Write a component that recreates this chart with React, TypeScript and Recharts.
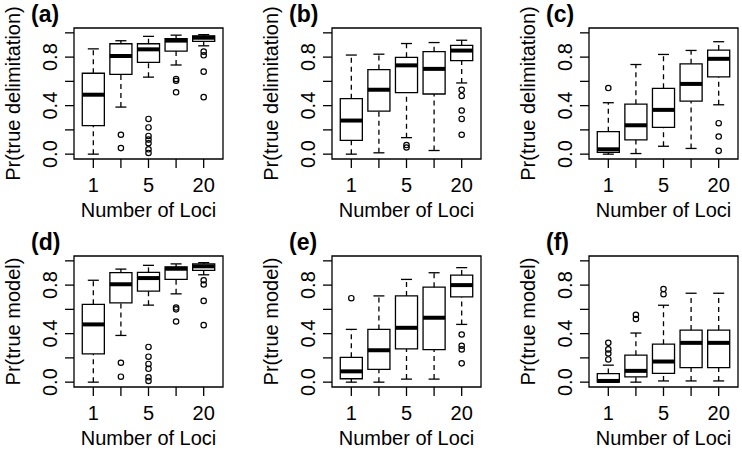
import React from 'react';
import { ComposedChart, XAxis, YAxis, Scatter, ReferenceArea, ReferenceLine } from 'recharts';

const loci = ['1', '2', '5', '10', '20'];
// R drops the labels that would overlap
const lociLabels = ['1', '', '5', '', '20'];
const yTicks = [0, 0.2, 0.4, 0.6, 0.8, 1.0];
const yTickLabels = ['0.0', '', '0.4', '', '0.8', ''];

// [lower whisker, Q1, median, Q3, upper whisker] for each number of loci
const statsA = [
  [0.0, 0.235, 0.49, 0.667, 0.868],
  [0.388, 0.658, 0.809, 0.91, 0.935],
  [0.635, 0.757, 0.864, 0.91, 0.971],
  [0.735, 0.85, 0.936, 0.953, 0.981],
  [0.893, 0.93, 0.96, 0.975, 0.985],
];
const outA = [[], [0.16, 0.05], [0.29, 0.22, 0.15, 0.12, 0.09, 0.04, 0.01], [0.62, 0.605, 0.51], [0.845, 0.815, 0.68, 0.47]];

const statsB = [
  [0.0, 0.113, 0.277, 0.457, 0.817],
  [0.011, 0.354, 0.531, 0.697, 0.824],
  [0.136, 0.507, 0.732, 0.798, 0.912],
  [0.03, 0.496, 0.703, 0.845, 0.92],
  [0.587, 0.771, 0.854, 0.897, 0.939],
];
const outB = [[], [], [0.075, 0.055], [], [0.53, 0.48, 0.36, 0.29, 0.16]];

const statsC = [
  [0.0, 0.014, 0.04, 0.185, 0.424],
  [0.005, 0.117, 0.238, 0.412, 0.739],
  [0.065, 0.221, 0.365, 0.543, 0.822],
  [0.047, 0.437, 0.579, 0.745, 0.855],
  [0.407, 0.637, 0.786, 0.858, 0.927],
];
const outC = [[0.545], [], [], [], [0.255, 0.145, 0.027]];

const statsD = [
  [0.0, 0.233, 0.476, 0.642, 0.84],
  [0.385, 0.653, 0.807, 0.903, 0.932],
  [0.635, 0.75, 0.858, 0.905, 0.963],
  [0.728, 0.848, 0.935, 0.95, 0.975],
  [0.885, 0.922, 0.955, 0.975, 0.985],
];
const outD = [[], [0.16, 0.045], [0.29, 0.21, 0.15, 0.11, 0.04, 0.01], [0.615, 0.6, 0.5], [0.84, 0.805, 0.67, 0.47]];

const statsE = [
  [0.0, 0.028, 0.089, 0.205, 0.435],
  [0.0, 0.105, 0.263, 0.435, 0.711],
  [0.025, 0.274, 0.448, 0.711, 0.847],
  [0.025, 0.268, 0.531, 0.783, 0.902],
  [0.476, 0.703, 0.8, 0.883, 0.944],
];
const outE = [[0.692], [], [], [], [0.393, 0.3, 0.27, 0.155]];

const statsF = [
  [0.0, 0.0, 0.01, 0.071, 0.14],
  [0.0, 0.043, 0.093, 0.222, 0.405],
  [0.01, 0.073, 0.17, 0.313, 0.634],
  [0.01, 0.12, 0.324, 0.429, 0.733],
  [0.01, 0.12, 0.324, 0.429, 0.733],
];
const outF = [[0.324, 0.27, 0.236, 0.187], [0.555, 0.52], [0.767, 0.725], [], []];

const FONT = '"Liberation Sans", Arial, Helvetica, sans-serif';
const X_DOMAIN: [number, number] = [0.3, 5.7];
const Y_DOMAIN: [number, number] = [-0.04, 1.04];
const HALF_BOX = 0.4;
const HALF_CAP = 0.2;
const LW = 1.3;

const panels = [
  { tag: '(a)', title: 'Pr(true delimitation)', stats: statsA, out: outA, left: 0, top: 0 },
  { tag: '(b)', title: 'Pr(true delimitation)', stats: statsB, out: outB, left: 257.5, top: 0 },
  { tag: '(c)', title: 'Pr(true delimitation)', stats: statsC, out: outC, left: 515, top: 0 },
  { tag: '(d)', title: 'Pr(true model)', stats: statsD, out: outD, left: 0, top: 228.4 },
  { tag: '(e)', title: 'Pr(true model)', stats: statsE, out: outE, left: 257.5, top: 228.4 },
  { tag: '(f)', title: 'Pr(true model)', stats: statsF, out: outF, left: 515, top: 228.4 },
];

const renderXTick = (p: any) => (
  <text x={p.x} y={p.y + 24} textAnchor="middle" fontSize={20} fontFamily={FONT} fill="#000">
    {lociLabels[Math.round(p.payload.value) - 1]}
  </text>
);

const renderYTick = (p: any) => {
  const tx = p.x - 8;
  return (
    <text x={tx} y={p.y} transform={`rotate(-90 ${tx} ${p.y})`} textAnchor="middle" fontSize={20} fontFamily={FONT} fill="#000">
      {yTickLabels[Math.round(p.payload.value * 5)]}
    </text>
  );
};

function BoxPanel({ tag, title, stats, out }: any) {
  const points = out.flatMap((vals: number[], i: number) => vals.map((v) => ({ x: i + 1, y: v })));

  const yLabel = (p: any) => {
    const vb = p.viewBox;
    const tx = vb.x + 20;
    const ty = vb.y + vb.height / 2;
    return (
      <g>
        <text x={tx} y={ty} transform={`rotate(-90 ${tx} ${ty})`} textAnchor="middle" fontSize={20} fontFamily={FONT} fill="#000">
          {title}
        </text>
        <text x={vb.x + 31} y={vb.y - 6} fontSize={23} fontWeight="bold" fontFamily={FONT} fill="#000">
          {tag}
        </text>
      </g>
    );
  };

  const xLabel = (p: any) => {
    const vb = p.viewBox;
    return (
      <text x={vb.x + vb.width / 2} y={vb.y + 58} textAnchor="middle" fontSize={20} fontFamily={FONT} fill="#000">
        Number of Loci
      </text>
    );
  };

  return (
    <ComposedChart width={227} height={228} margin={{ top: 28, right: 4, bottom: 0, left: 0 }} data={points}>
      <XAxis
        type="number"
        dataKey="x"
        domain={X_DOMAIN}
        ticks={loci.map((_, i) => i + 1)}
        interval={0}
        allowDataOverflow
        axisLine={false}
        tickSize={9}
        tickMargin={0}
        tickLine={{ stroke: '#000', strokeWidth: LW }}
        tick={renderXTick}
        height={69}
        label={xLabel}
      />
      <YAxis
        type="number"
        domain={Y_DOMAIN}
        ticks={yTicks}
        interval={0}
        allowDataOverflow
        axisLine={false}
        tickSize={9}
        tickMargin={0}
        tickLine={{ stroke: '#000', strokeWidth: LW }}
        tick={renderYTick}
        width={74}
        label={yLabel}
      />
      <ReferenceArea
        x1={X_DOMAIN[0]}
        x2={X_DOMAIN[1]}
        y1={Y_DOMAIN[0]}
        y2={Y_DOMAIN[1]}
        fill="none"
        stroke="#000"
        strokeWidth={LW}
        ifOverflow="visible"
      />
      {stats.map(([lo, q1, med, q3, hi]: number[], i: number) => {
        const c = i + 1;
        return (
          <React.Fragment key={i}>
            <ReferenceLine segment={[{ x: c, y: lo }, { x: c, y: q1 }]} stroke="#000" strokeWidth={LW} strokeDasharray="5 4" ifOverflow="visible" />
            <ReferenceLine segment={[{ x: c, y: q3 }, { x: c, y: hi }]} stroke="#000" strokeWidth={LW} strokeDasharray="5 4" ifOverflow="visible" />
            <ReferenceLine segment={[{ x: c - HALF_CAP, y: lo }, { x: c + HALF_CAP, y: lo }]} stroke="#000" strokeWidth={LW} ifOverflow="visible" />
            <ReferenceLine segment={[{ x: c - HALF_CAP, y: hi }, { x: c + HALF_CAP, y: hi }]} stroke="#000" strokeWidth={LW} ifOverflow="visible" />
            <ReferenceArea x1={c - HALF_BOX} x2={c + HALF_BOX} y1={q1} y2={q3} fill="#fff" fillOpacity={1} stroke="#000" strokeWidth={LW} ifOverflow="visible" />
            <ReferenceLine segment={[{ x: c - HALF_BOX, y: med }, { x: c + HALF_BOX, y: med }]} stroke="#000" strokeWidth={4} ifOverflow="visible" />
          </React.Fragment>
        );
      })}
      <Scatter
        dataKey="y"
        isAnimationActive={false}
        shape={(p: any) => <circle cx={p.cx} cy={p.cy} r={2.7} fill="none" stroke="#000" strokeWidth={1.2} />}
      />
    </ComposedChart>
  );
}

export default function App() {
  return (
    <div style={{ position: 'absolute', left: 0, top: 0, width: 742, height: 450, background: '#fff', fontFamily: FONT }}>
      {panels.map((p) => (
        <div key={p.tag} style={{ position: 'absolute', left: p.left, top: p.top }}>
          <BoxPanel tag={p.tag} title={p.title} stats={p.stats} out={p.out} />
        </div>
      ))}
    </div>
  );
}
